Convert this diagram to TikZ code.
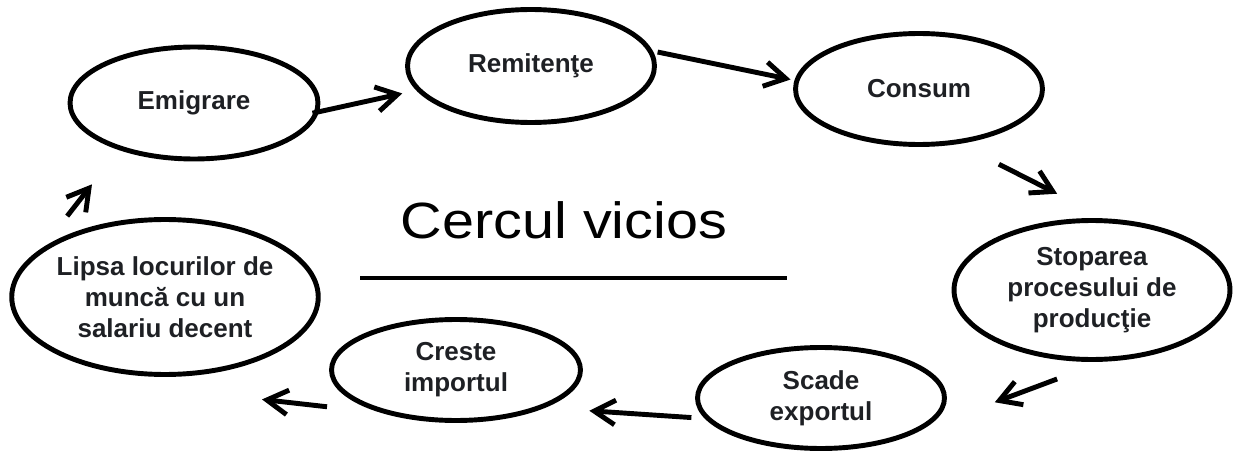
\documentclass[tikz,border=0pt]{standalone}
\usepackage{fontspec}
\setmainfont{Liberation Sans}
\usetikzlibrary{shapes.geometric,arrows.meta}
\definecolor{txt}{RGB}{30,32,36}
\tikzset{
  bub/.style={draw,ellipse,line width=2.8pt,inner sep=0pt,align=center,
    text=txt,font=\fontsize{14.8}{17.6}\selectfont\bfseries},
  arr/.style={line width=2.8pt,-{Straight Barb[length=12pt,width=14pt]}}
}
\begin{document}
\begin{tikzpicture}[x=0.02cm,y=-0.02cm]
      \useasboundingbox (0,0) rectangle (1234,456);
      \draw
        (194,103) node[bub,minimum width=4.96cm,minimum height=2.24cm] (emig){Emigrare}
        (531,66) node[bub,minimum width=4.94cm,minimum height=2.26cm] (remit){Remitenţe}
        (919,89) node[bub,minimum width=4.94cm,minimum height=2.22cm] (consum){Consum}
        (1092,290) node[bub,minimum width=5.52cm,minimum height=2.78cm] (stop){Stoparea\\procesului de\\producţie}
        (821,398) node[bub,minimum width=4.94cm,minimum height=2.02cm] (scade){Scade\\exportul}
        (456,370) node[bub,minimum width=4.98cm,minimum height=2.02cm] (creste){Creste\\importul}
        (165,297) node[bub,minimum width=6.12cm,minimum height=3.1cm] (lipsa){Lipsa locurilor de\\muncă cu un\\salariu decent};
      % title and rule
      \node[anchor=base] (title) at (564,238)
        {\scalebox{1.13}[1]{\fontsize{29}{35}\selectfont Cercul vicios}};
      \draw[line width=2.8pt] (360,278) -- (787,278);
      \begin{scope}[arr]
        \draw[shorten <=-3.8pt,shorten >=8.2pt] (emig.-4) to (remit.192.1);
        \draw[shorten <=2.8pt,shorten >=2.3pt] (remit.7.2) to (consum.176.2);
        \draw[shorten <=25.5pt,shorten >=31.1pt] (consum.-54) to (stop.79.1);
        \draw[shorten <=28.1pt,shorten >=43.7pt] (stop.-81.6) to (scade.-17.9);
        \draw[shorten <=7.7pt,shorten >=25.3pt] (scade.190.6) to (creste.-23.2);
        \draw[shorten <=31.3pt] (creste.210.2) to ([shift={(97,22.5)}]lipsa.south);
        \draw[shorten <=22.7pt,shorten >=24.8pt] (lipsa.158.7) to (emig.212.1);
      \end{scope}
    \end{tikzpicture}
\end{document}
